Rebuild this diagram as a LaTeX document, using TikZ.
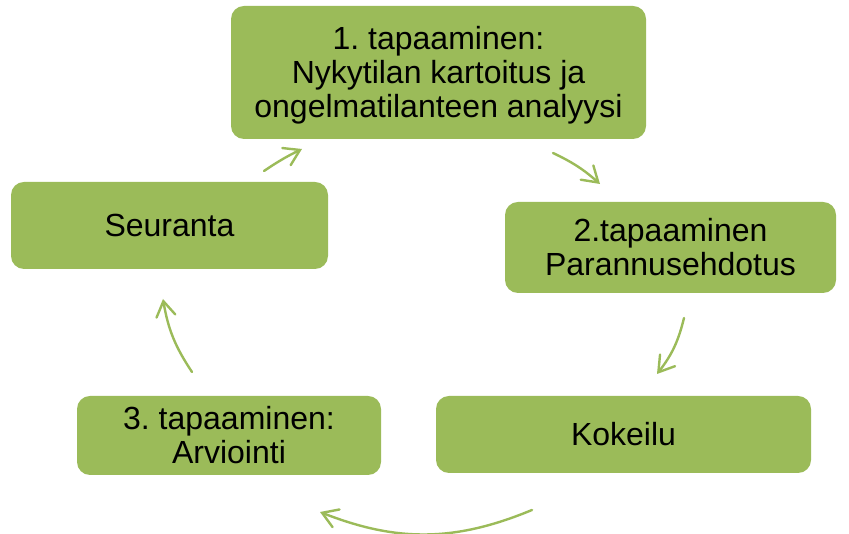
\documentclass[tikz,border=0pt]{standalone}
\usepackage{fontspec}
\setmainfont{Liberation Sans}
\frenchspacing
\usetikzlibrary{arrows.meta}
\definecolor{boxgreen}{HTML}{9BBB59}
\definecolor{arrowgreen}{HTML}{9BBB59}
\tikzset{
  stepbox/.style={fill=boxgreen, draw=none, rounded corners=13pt, align=center,
    inner sep=0pt, font=\fontsize{32}{34}\selectfont, text=black},
  cyclearrow/.style={draw=arrowgreen, line width=2.4pt, line cap=round,
    -{Straight Barb[length=15pt,width=19pt,line cap=round]}}
}
\begin{document}
\frenchspacing
\begin{tikzpicture}[x=1pt,y=1pt]
\useasboundingbox (0,0) rectangle (849,534);
\node[stepbox, minimum width=415pt, minimum height=133pt] (b1) at (438.5,461.5) {};
\node[align=center, inner sep=0pt, font=\fontsize{32}{34}\selectfont] (t1) at (438.5,459)
  {1. tapaaminen:\\Nykytilan kartoitus ja\\ongelmatilanteen analyysi};
\node[stepbox, minimum width=331pt, minimum height=91pt] (b2) at (670.5,286.5)
  {2.tapaaminen\\Parannusehdotus};
\node[stepbox, minimum width=375pt, minimum height=77pt] (b3) at (623.5,99.5)
  {Kokeilu};
\node[stepbox, minimum width=304pt, minimum height=79pt] (b4) at (229,98.5)
  {3. tapaaminen:\\Arviointi};
\node[stepbox, minimum width=317pt, minimum height=87pt] (b5) at (169.5,308.5)
  {Seuranta};
\coordinate (a1s) at (553,381);
\coordinate (a1e) at (600,350);
\coordinate (a2s) at (684,216);
\coordinate (a2e) at (657,160);
\coordinate (a3s) at (532,24);
\coordinate (a3e) at (320,22);
\coordinate (a4s) at (192,162);
\coordinate (a4e) at (163,235);
\coordinate (a5s) at (264,363);
\coordinate (a5e) at (302,385);
\draw[cyclearrow] (a1s) to[bend left=8] (a1e);
\draw[cyclearrow] (a2s) to[bend left=12] (a2e);
\draw[cyclearrow] (a3s) to[bend left=22] (a3e);
\draw[cyclearrow] (a4s) to[bend left=12] (a4e);
\draw[cyclearrow] (a5s) to[bend left=4] (a5e);
\end{tikzpicture}
\end{document}
